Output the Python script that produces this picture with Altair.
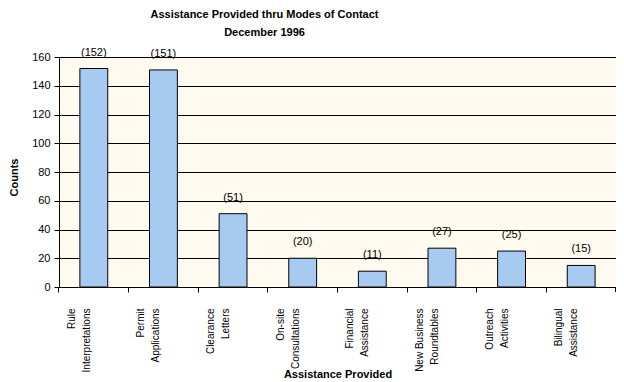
import altair as alt
import pandas as pd

categories = [
    "Rule\nInterpretations",
    "Permit\nApplications",
    "Clearance\nLetters",
    "On-site\nConsultations",
    "Financial\nAssistance",
    "New Business\nRoundtables",
    "Outreach\nActivities",
    "Bilingual\nAssistance",
]
counts = [152, 151, 51, 20, 11, 27, 25, 15]
count_labels = ["(152)", "(151)", "(51)", "(20)", "(11)", "(27)", "(25)", "(15)"]
y_ticks = [0, 20, 40, 60, 80, 100, 120, 140, 160]

df = pd.DataFrame({"cat": categories, "count": counts, "lab": count_labels})

FONT = "Liberation Sans"
W, H = 557, 230

x = alt.X(
    "cat:N",
    sort=categories,
    scale=alt.Scale(paddingInner=0.6, paddingOuter=0.3),
    axis=alt.Axis(
        title="Assistance Provided",
        titleFont=FONT,
        titleFontSize=11,
        titleFontWeight="bold",
        titleColor="black",
        titleX=W / 2,
        titleY=81,
        titleBaseline="top",
        titleAnchor="middle",
        bandPosition=-0.75,
        labelAngle=270,
        labelAlign="right",
        labelBaseline="middle",
        labelOffset=-22,
        labelPadding=16,
        labelFont=FONT,
        labelFontSize=10,
        labelColor="black",
        labelLineHeight=15,
        labelExpr="split(datum.label, '\\n')",
        tickSize=5,
        tickColor="black",
        domainColor="black",
        grid=False,
    ),
)

y = alt.Y(
    "count:Q",
    scale=alt.Scale(domain=[0, 160], nice=False),
    axis=alt.Axis(
        title="Counts",
        titleFont=FONT,
        titleFontSize=11,
        titleFontWeight="bold",
        titleColor="black",
        titleX=-45,
        titleY=120,
        titleAngle=270,
        titleBaseline="middle",
        titleAnchor="middle",
        values=y_ticks,
        labelFont=FONT,
        labelFontSize=11,
        labelColor="black",
        labelPadding=4,
        labelOverlap=False,
        tickSize=5,
        tickColor="black",
        domainColor="black",
        grid=True,
        gridColor="black",
        gridOpacity=1,
    ),
)

base = alt.Chart(df).encode(x=x, y=y)

bars = base.mark_bar(color="#A6CAF0", stroke="black", strokeWidth=1)

texts = base.mark_text(
    font=FONT, fontSize=11, color="black", baseline="bottom", dy=-11
).encode(text="lab:N")

edge_tick = alt.Chart(df).mark_rule(color="black").encode(
    x=alt.value(W), y=alt.value(H), y2=alt.value(H + 5)
)

chart = (
    alt.layer(bars, texts, edge_tick)
    .properties(
        width=W,
        height=H,
        autosize=alt.AutoSizeParams(type="none"),
        padding={"left": 51, "top": 49, "right": 0, "bottom": 95},
        title=alt.TitleParams(
            text=["Assistance Provided thru Modes of Contact", "December 1996"],
            font=FONT,
            fontSize=11,
            fontWeight="bold",
            color="black",
            anchor="middle",
            dx=-73,
            lineHeight=18,
            offset=9,
        ),
        view=alt.ViewBackground(fill="#FFFAEF", stroke="#808080"),
    )
    .configure(background="white")
)

chart.save("out.html", embed_options={"renderer": "svg", "actions": False})
